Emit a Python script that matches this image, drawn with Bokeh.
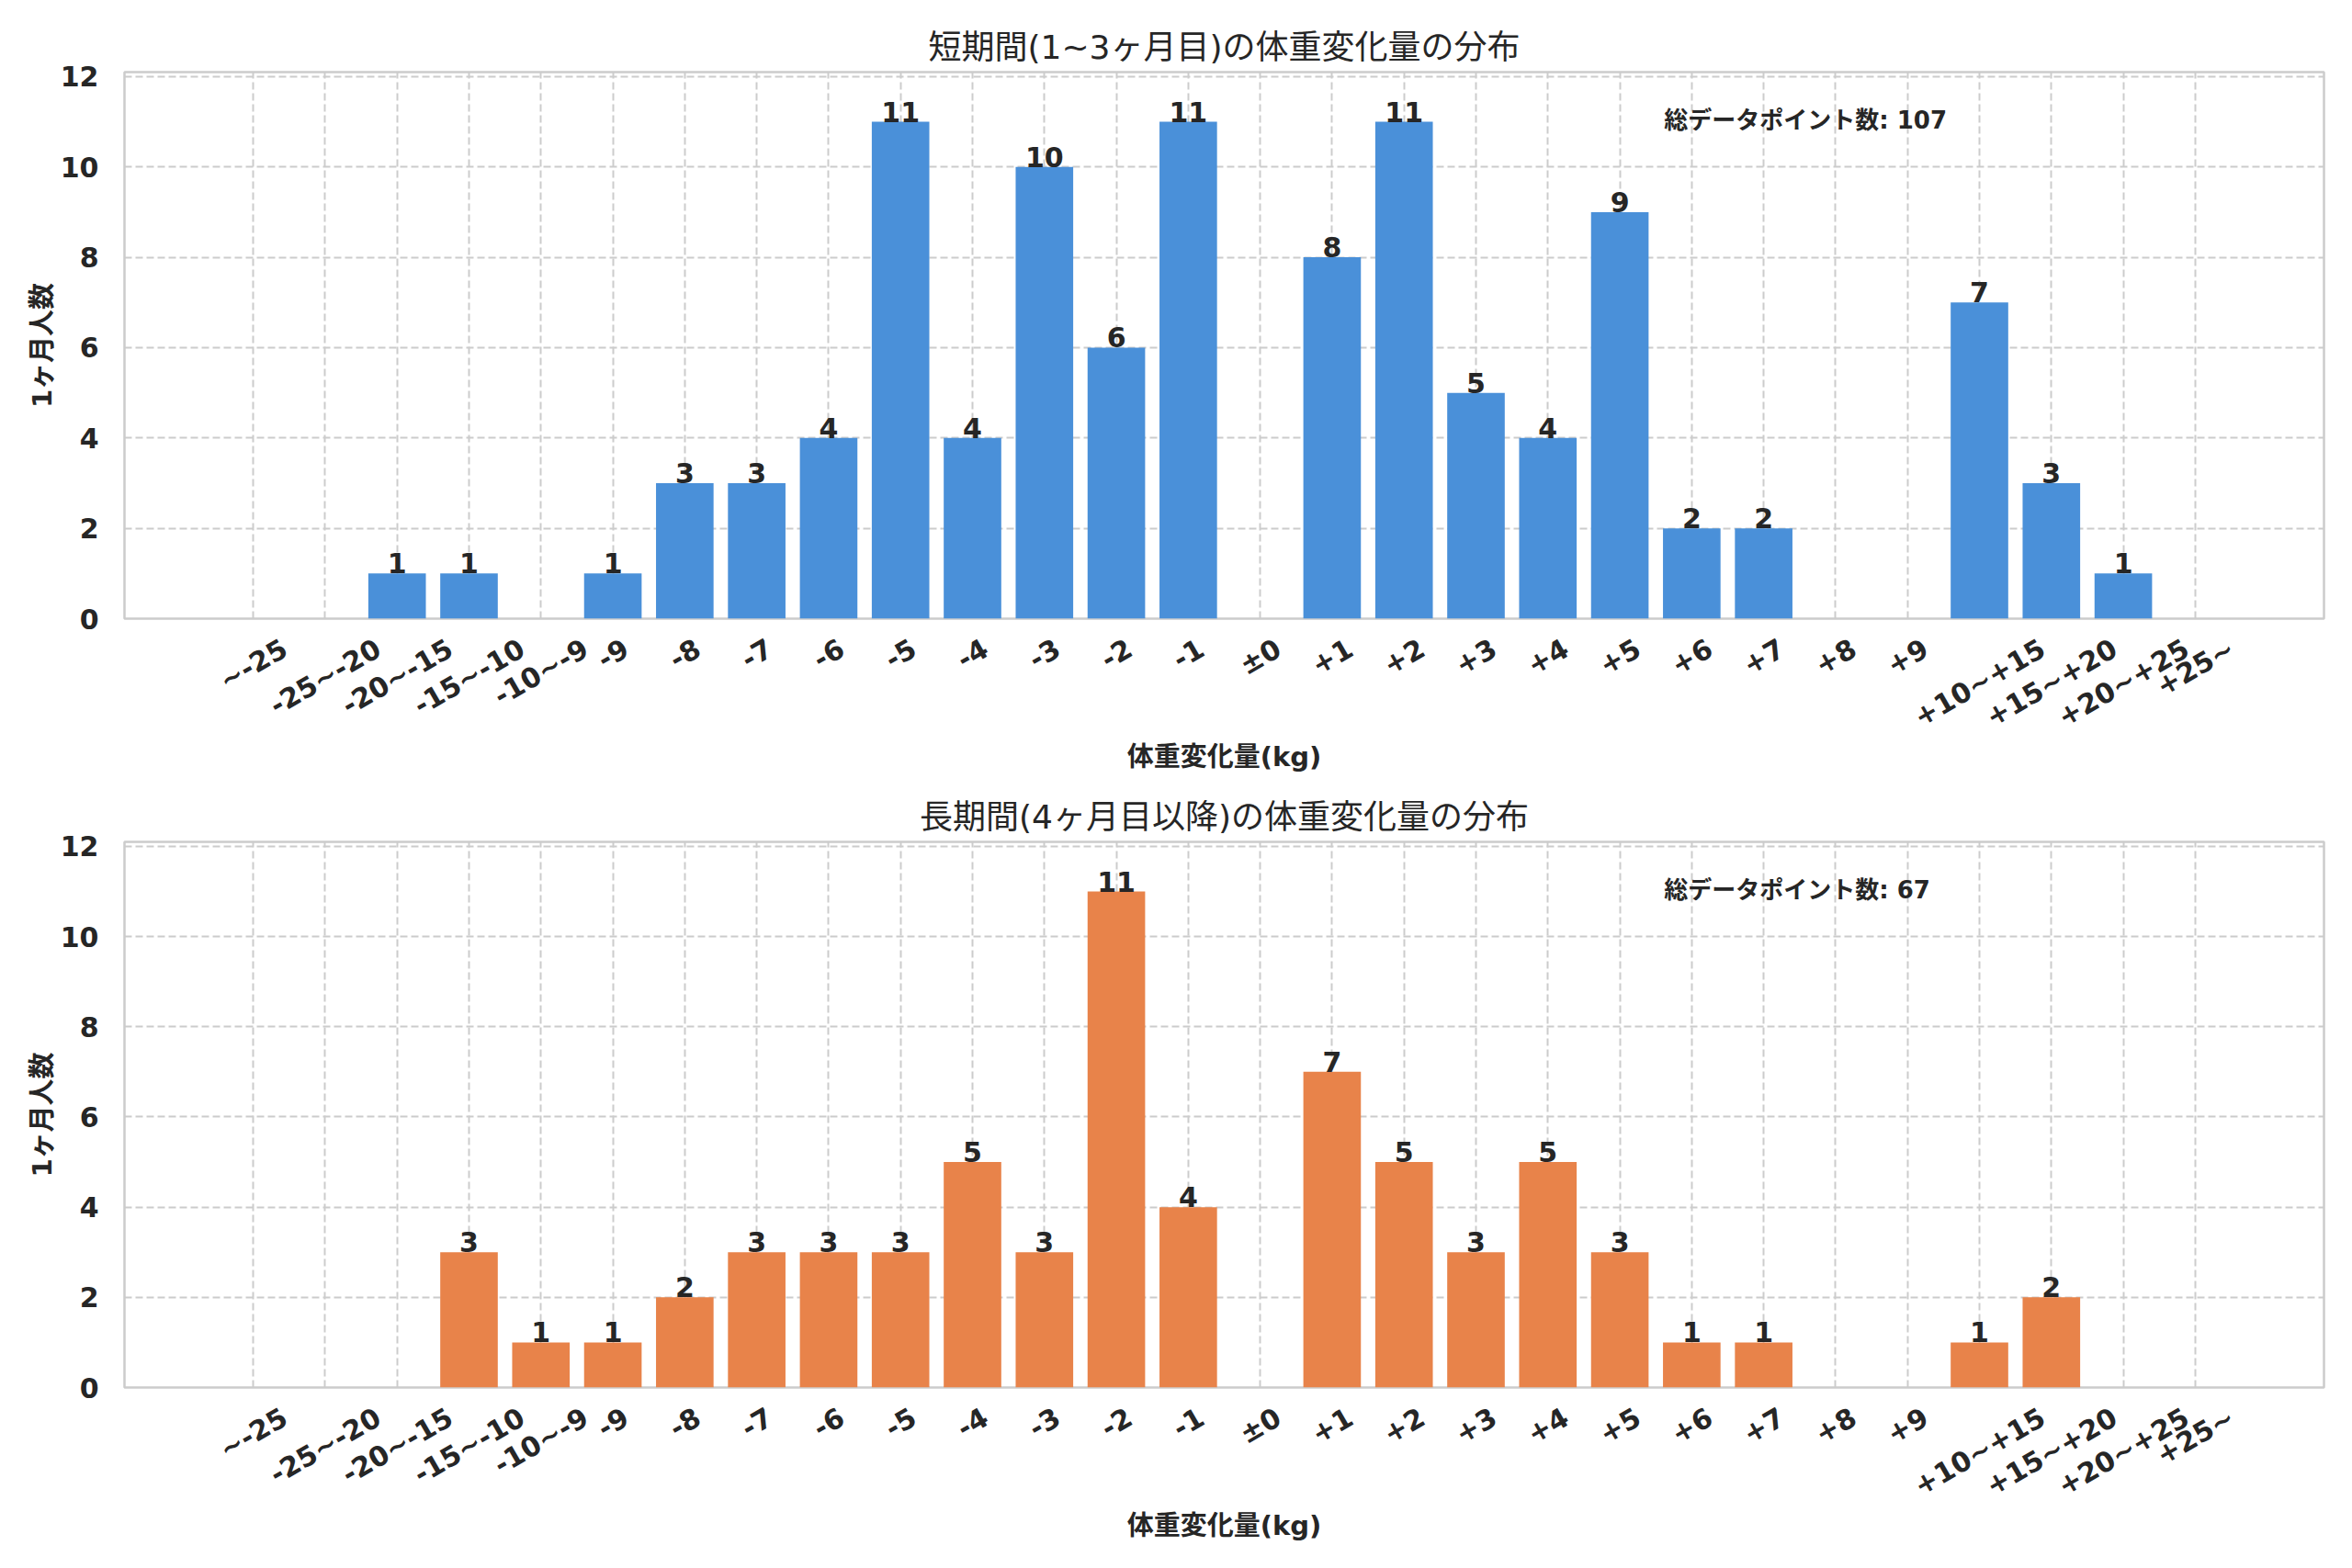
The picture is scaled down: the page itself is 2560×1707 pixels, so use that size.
import math
from bokeh.plotting import figure
from bokeh.models import Range1d, FixedTicker, ColumnDataSource, Label
from bokeh.layouts import column
from bokeh.embed import file_html
from bokeh.resources import INLINE
from bokeh.core.properties import value

# ---- data ----
categories = ["~-25", "-25~-20", "-20~-15", "-15~-10", "-10~-9", "-9", "-8", "-7",
              "-6", "-5", "-4", "-3", "-2", "-1", "±0", "+1", "+2", "+3", "+4", "+5",
              "+6", "+7", "+8", "+9", "+10~+15", "+15~+20", "+20~+25", "+25~"]
short_counts = [0, 0, 1, 1, 0, 1, 3, 3, 4, 11, 4, 10, 6, 11, 0, 8, 11, 5, 4, 9,
                2, 2, 0, 0, 7, 3, 1, 0]
long_counts = [0, 0, 0, 3, 1, 1, 2, 3, 3, 3, 5, 3, 11, 4, 0, 7, 5, 3, 5, 3,
               1, 1, 0, 0, 1, 2, 0, 0]
y_ticks = [0, 2, 4, 6, 8, 10, 12]

title_short = "短期間(1~3ヶ月目)の体重変化量の分布"
title_long = "長期間(4ヶ月目以降)の体重変化量の分布"
x_label = "体重変化量(kg)"
y_label = "1ヶ月人数"
note_prefix = "総データポイント数"

FONT = "'DejaVu Sans', 'Noto Sans CJK JP', sans-serif"
TEXT = "#262626"
GRID = "#cccccc"

WIDTH = 2560
BORDER_L = 135
BORDER_R = 31
Y_MAX = 12.1
PAD = 1.29          # padding beyond the outer bar edges (data units)
BAR_W = 0.8
TICK_SIZE = 30      # px
ANGLE = math.pi / 6
# DejaVu Sans Bold advance widths (em), to centre the rotated tick labels
ADV = {"~": 0.838, "-": 0.415, "+": 0.838, "±": 0.838}


def text_width(s, size):
    return sum(ADV.get(ch, 0.696) for ch in s) * size


positions = list(range(len(categories)))
X0 = -0.5 - PAD
X1 = len(categories) - 0.5 + PAD


def make_fig(counts, color, title_text, height, top_b, bottom_b):
    frame_w = WIDTH - BORDER_L - BORDER_R
    px_per_unit = frame_w / (X1 - X0)
    p = figure(width=WIDTH, height=height, x_range=Range1d(X0, X1),
               y_range=Range1d(0, Y_MAX),
               output_backend="svg", toolbar_location=None,
               min_border_left=BORDER_L, min_border_right=BORDER_R,
               min_border_top=top_b, min_border_bottom=bottom_b,
               title=title_text)
    p.background_fill_color = "white"
    p.border_fill_color = "white"
    p.outline_line_color = GRID
    p.outline_line_width = 2.5
    p.outline_line_alpha = 1.0

    p.title.text_font = FONT
    p.title.text_font_size = "36px"
    p.title.text_font_style = "normal"
    p.title.text_color = TEXT
    p.title.align = "center"
    p.title.standoff = 14

    for ax in (p.xaxis[0], p.yaxis[0]):
        ax.axis_line_color = None
        ax.major_tick_line_color = None
        ax.minor_tick_line_color = None
        ax.major_label_text_font = FONT
        ax.major_label_text_font_size = f"{TICK_SIZE}px"
        ax.major_label_text_font_style = "bold"
        ax.major_label_text_color = TEXT
        ax.axis_label_text_font = FONT
        ax.axis_label_text_font_size = "29px"
        ax.axis_label_text_font_style = "bold"
        ax.axis_label_text_color = TEXT

    # Bokeh anchors rotated labels at their right end; shift each label's
    # anchor so that the label is centred under its bar (matplotlib ha="center").
    label_ticks = []
    overrides = {}
    for pos, cat in zip(positions, categories):
        w = text_width(cat, TICK_SIZE)
        t = round(pos + (w / 2) * math.cos(ANGLE) / px_per_unit, 4)
        label_ticks.append(t)
        overrides[t] = cat
    p.xaxis.ticker = FixedTicker(ticks=label_ticks)
    p.xaxis.major_label_overrides = overrides
    p.xaxis.major_label_orientation = ANGLE
    p.xaxis.major_label_standoff = 24
    p.xaxis.axis_label = x_label
    p.xaxis.axis_label_standoff = -9
    p.xgrid.ticker = FixedTicker(ticks=positions)

    p.yaxis.ticker = FixedTicker(ticks=y_ticks)
    p.yaxis.major_label_standoff = 22
    p.yaxis.axis_label = y_label
    p.yaxis.axis_label_standoff = 0

    for g in (p.xgrid[0], p.ygrid[0]):
        g.grid_line_color = GRID
        g.grid_line_width = 2
        g.grid_line_dash = "8 4"

    src = ColumnDataSource(dict(x=positions, count=counts))
    p.vbar(x="x", top="count", width=BAR_W, source=src,
           fill_color=color, line_color=None)

    nz = [(x, v) for x, v in zip(positions, counts) if v > 0]
    lab_src = ColumnDataSource(dict(x=[x for x, _ in nz],
                                    count=[v for _, v in nz],
                                    label=[str(v) for _, v in nz]))
    p.text(x="x", y="count", text="label", source=lab_src,
           text_align="center", text_baseline="bottom",
           text_font=value(FONT), text_font_size="30px",
           text_font_style="bold", text_color=TEXT)

    # annotation at axes fraction (0.70, 0.937)
    note = Label(x=X0 + 0.70 * (X1 - X0), y=0.937 * Y_MAX,
                 text=f"{note_prefix}: {sum(counts)}",
                 text_font=FONT, text_font_size="26px", text_font_style="bold",
                 text_color=TEXT, text_align="left", text_baseline="top")
    p.add_layout(note)
    return p


p1 = make_fig(short_counts, "#4a90d9", title_short, 853, 78, 180)
p2 = make_fig(long_counts, "#e8834a", title_long, 853, 63, 196)

layout = column(p1, p2)
open("out.html", "w").write(file_html(layout, INLINE))
